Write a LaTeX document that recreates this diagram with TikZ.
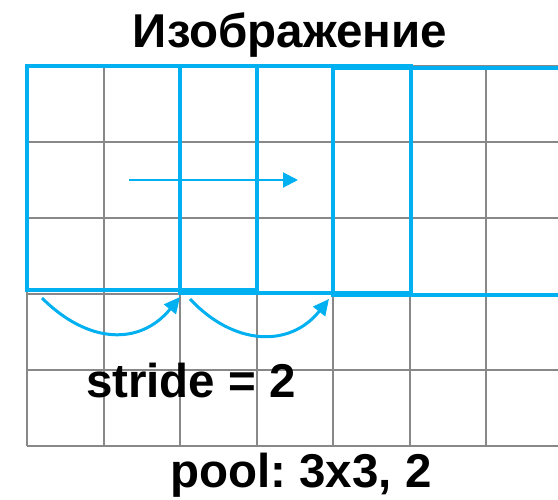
\documentclass[tikz,border=0pt]{standalone}
\usepackage{fontspec}
\setmainfont{Liberation Sans}
\usepackage{xcolor}
\usetikzlibrary{arrows.meta}
\definecolor{winblue}{HTML}{00B0F0}
\definecolor{gridgray}{HTML}{888888}
\frenchspacing

\begin{document}
\begin{tikzpicture}[
    x=1pt, y=-1pt,
    >={Triangle[length=16pt,width=15pt]},
    cell/.style={draw=gridgray, line width=2pt},
    window/.style={draw=winblue, line width=3.2pt},
    jump/.style={->, winblue, line width=3pt},
    slide/.style={-{Triangle[length=15pt,width=15pt]}, winblue, line width=2pt},
    label/.style={font=\fontsize{47.5}{52}\selectfont\bfseries, anchor=base, inner sep=0pt},
]
\useasboundingbox (0,0) rectangle (558,499);

% Grid
\foreach \gx in {27,104,180,257,333,410,486}
  \draw[cell] (\gx,66) -- (\gx,446);
\foreach \gy in {66,142,218,294,370,446}
  \draw[cell] (27,\gy) -- (558,\gy);

% Pooling windows
\draw[window] (27,66) rectangle (257,290);
\draw[window] (180,66) rectangle (411,293);
\draw[window] (562,68) -- (333,68) -- (333,295) -- (562,295);

% Texts
\node[label] (title) at (290,47) {Изображение};
\node[label] (stride) at (191,397) {stride = 2};
\node[label] (pool) at (301,487) {pool: 3x3, 2};

% Arrows
\coordinate (slidestart) at (129,180);
\coordinate (slideend) at (298,180);
\coordinate (jumpa) at (42,298);
\coordinate (jumpb) at (180,297);
\coordinate (jumpc) at (190,299);
\coordinate (jumpd) at (329,299);
\draw[slide] (slidestart) -- (slideend);
\draw[jump] (jumpa) .. controls (88,344) and (140,346) .. (jumpb);
\draw[jump] (jumpc) .. controls (234,346) and (290,348) .. (jumpd);

\end{tikzpicture}
\end{document}
